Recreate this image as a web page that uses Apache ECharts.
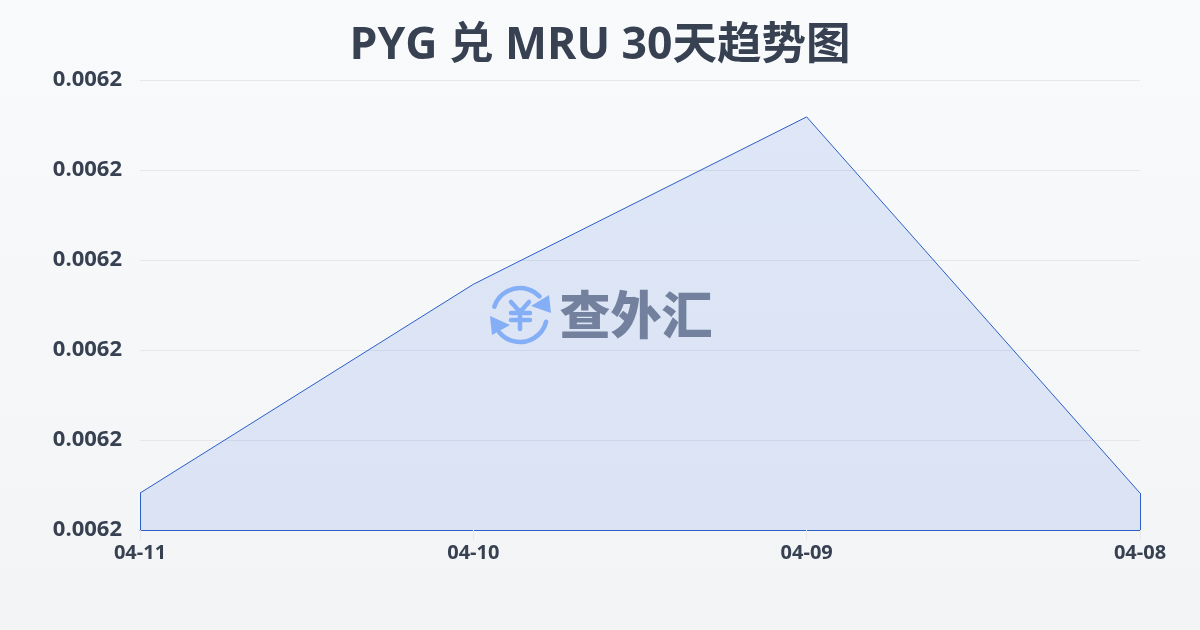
<!DOCTYPE html>
<html><head><meta charset="utf-8">
<style>html,body{margin:0;padding:0;background:#f8fafc}#c{width:1200px;height:630px}</style>
<script src="https://cdn.jsdelivr.net/npm/echarts@6/dist/echarts.min.js"></script></head>
<body><div id="c"></div>
<script>
const categories = ['04-11','04-10','04-09','04-08'];
const rates = [0.0061941, 0.0062173, 0.0062359, 0.0061941];
const yMin = 0.00619, yMax = 0.00624, yStep = 0.00001;
const titleText = 'PYG 兑 MRU 30天趋势图';
const watermarkText = '查外汇';
const LINE = '#2b5fc9';
const BLUE = '#8fb8f8';
const FONT = '"Open Sans","Noto Sans CJK SC",sans-serif';
const chart = echarts.init(document.getElementById('c'));
const stroke = {fill:'none',stroke:BLUE,lineWidth:4.5,lineCap:'round'};
const seg = (x1,y1,x2,y2)=>({type:'line',shape:{x1,y1,x2,y2},style:stroke});
chart.setOption({
  animation:false,
  backgroundColor:new echarts.graphic.LinearGradient(0,0,0,1,[{offset:0,color:'#f8fafc'},{offset:1,color:'#f3f4f6'}]),
  title:{text:titleText,left:'center',top:19,textStyle:{fontFamily:FONT,fontSize:44.5,fontWeight:'bold',color:'#374151'}},
  grid:{left:140,right:60,top:80,bottom:100},
  xAxis:{type:'category',boundaryGap:false,data:categories,
    axisLine:{show:true,lineStyle:{color:LINE,width:1}},
    axisTick:{show:true,length:10,lineStyle:{color:'#e5e7eb'}},
    axisLabel:{fontFamily:FONT,fontSize:20,fontWeight:'bold',color:'#374151',margin:13,interval:0}},
  yAxis:{type:'value',min:yMin,max:yMax,interval:yStep,
    axisLine:{show:false},axisTick:{show:false},
    splitLine:{lineStyle:{color:'#e5e7eb',width:1}},
    axisLabel:{fontFamily:FONT,fontSize:22,fontWeight:'bold',color:'#374151',margin:18,formatter:v=>v.toFixed(4)}},
  series:[{type:'line',data:rates,showSymbol:false,symbol:'none',smooth:false,
    lineStyle:{color:LINE,width:1},
    areaStyle:{color:'rgba(59,110,225,0.19)',origin:'start'},
    markLine:{silent:true,symbol:'none',label:{show:false},lineStyle:{color:LINE,width:1,type:'solid'},
      data:[
        [{xAxis:categories[0],yAxis:yMin},{xAxis:categories[0],yAxis:rates[0]}],
        [{xAxis:categories[3],yAxis:yMin},{xAxis:categories[3],yAxis:rates[3]}]
      ]}
  }],
  graphic:[
    {type:'group',z:100,silent:true,children:[
      {type:'arc',shape:{cx:520,cy:315,r:27,startAngle:-2.83,endAngle:-0.76},style:stroke},
      {type:'arc',shape:{cx:520,cy:315,r:27,startAngle:0.25,endAngle:2.44},style:stroke},
      {type:'polygon',shape:{points:[[551,313],[531,306],[549,295]]},style:{fill:BLUE}},
      {type:'polygon',shape:{points:[[490,316],[510,325],[492,335]]},style:{fill:BLUE}},
      seg(511,302,520,312),seg(529,302,520,312),seg(511,313,530,313),seg(511,320,530,320),seg(520,312,520,329),
      {type:'text',x:636,y:315,style:{text:watermarkText,font:'900 51px "Noto Sans CJK SC"',fill:'#7c8494',align:'center',verticalAlign:'middle'}}
    ]}
  ]
});
</script></body></html>
